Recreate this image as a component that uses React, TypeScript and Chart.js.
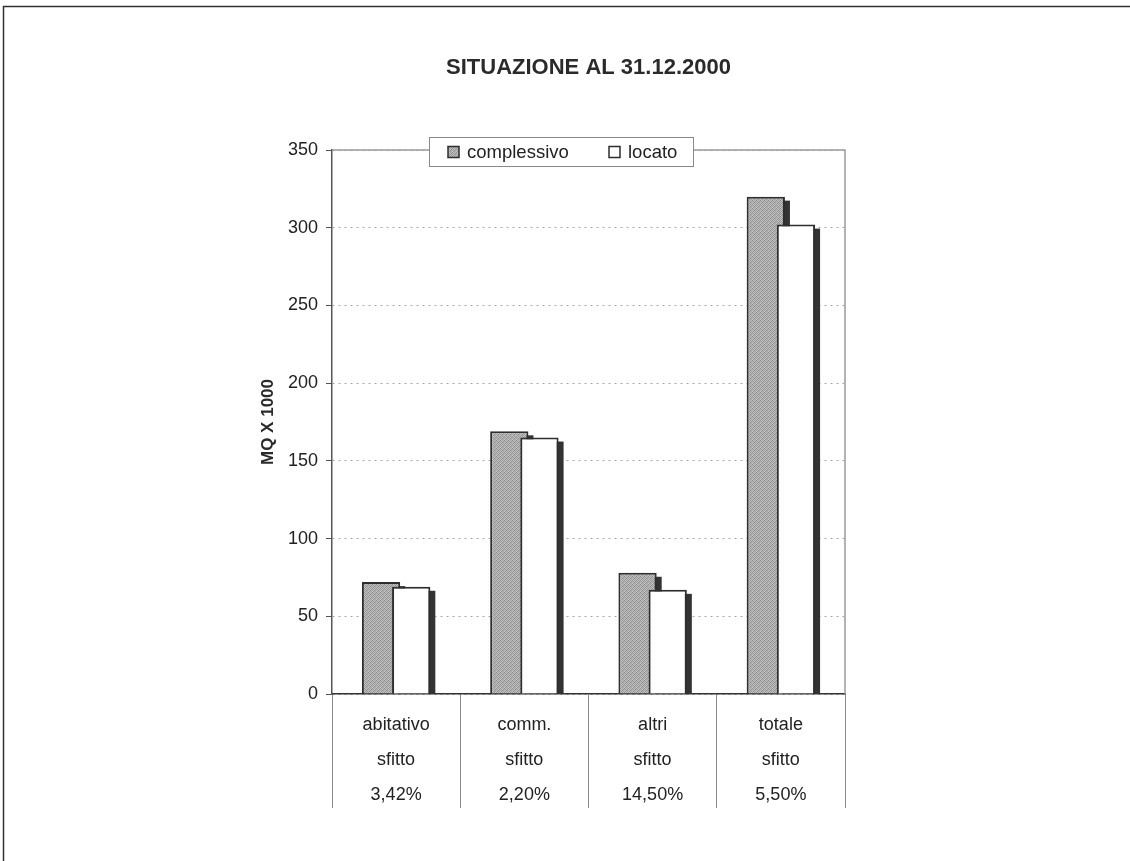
import { useEffect, useRef } from "react";
import { Chart, registerables } from "chart.js";

Chart.register(...registerables);

const TITLE = "SITUAZIONE AL 31.12.2000";
const Y_TITLE = "MQ X 1000";
const CATEGORIES = ["abitativo", "comm.", "altri", "totale"];
const SUB_LABEL = "sfitto";
const VACANCY = ["3,42%", "2,20%", "14,50%", "5,50%"];
const SERIES_NAMES = ["complessivo", "locato"];
const COMPLESSIVO = [72, 169, 78, 320];
const LOCATO = [69, 165, 67, 302];
const Y_MIN = 0;
const Y_MAX = 350;
const Y_STEP = 50;

const FONT = 'Arial, "Liberation Sans", sans-serif';

function makeStipple(): CanvasPattern | string {
  const c = document.createElement("canvas");
  c.width = 4;
  c.height = 4;
  const g = c.getContext("2d");
  if (!g) return "#a6a6a6";
  const shades = [
    ["#8e8e8e", "#c4c4c4", "#a0a0a0", "#bcbcbc"],
    ["#b8b8b8", "#9a9a9a", "#c8c8c8", "#909090"],
    ["#a4a4a4", "#c0c0c0", "#8c8c8c", "#b4b4b4"],
    ["#c6c6c6", "#969696", "#b0b0b0", "#a8a8a8"],
  ];
  for (let yy = 0; yy < 4; yy++) {
    for (let xx = 0; xx < 4; xx++) {
      g.fillStyle = shades[yy][xx];
      g.fillRect(xx, yy, 1, 1);
    }
  }
  const p = g.createPattern(c, "repeat");
  return p || "#a6a6a6";
}

export default function App() {
  const ref = useRef<HTMLCanvasElement | null>(null);

  useEffect(() => {
    document.body.style.margin = "0";
    const canvas = ref.current;
    if (!canvas) return;
    const stipple = makeStipple();

    const labels = CATEGORIES.map((c, i) => [c, SUB_LABEL, VACANCY[i]]);

    const drawPlugin = {
      id: "excelStyle",
      beforeDatasetsDraw(chart: any) {
        const ctx = chart.ctx;
        const { left, top, right, bottom } = chart.chartArea;
        ctx.save();
        ctx.strokeStyle = "#9a9a9a";
        ctx.lineWidth = 1.5;
        ctx.beginPath();
        ctx.moveTo(left, top);
        ctx.lineTo(right, top);
        ctx.lineTo(right, bottom);
        ctx.stroke();
        ctx.restore();
        chart.data.datasets.forEach((_ds: any, i: number) => {
          const meta = chart.getDatasetMeta(i);
          ctx.save();
          ctx.fillStyle = "#333333";
          meta.data.forEach((el: any) => {
            const { x, y, base, width } = el.getProps(["x", "y", "base", "width"], true);
            ctx.fillRect(x - width / 2 + 5, y + 4, width, base - y - 4);
          });
          ctx.restore();
          meta.controller.draw();
        });
        return false;
      },
      afterDraw(chart: any) {
        const ctx = chart.ctx;
        const { left, top } = chart.chartArea;
        ctx.save();
        // outer frame (top and left)
        ctx.strokeStyle = "#333";
        ctx.lineWidth = 1.5;
        ctx.beginPath();
        ctx.moveTo(3.5, chart.height);
        ctx.lineTo(3.5, 6.5);
        ctx.lineTo(chart.width, 6.5);
        ctx.stroke();

        // legend box
        const bx = left + 97;
        const by = top - 13;
        const bw = 264;
        const bh = 29;
        ctx.fillStyle = "#ffffff";
        ctx.fillRect(bx, by, bw, bh);
        ctx.strokeStyle = "#8a8a8a";
        ctx.lineWidth = 1;
        ctx.strokeRect(bx + 0.5, by + 0.5, bw, bh);
        ctx.font = `18.5px ${FONT}`;
        ctx.textBaseline = "middle";
        ctx.fillStyle = "#222";
        const cy = by + bh / 2;
        const items = [
          { x: bx + 19, label: chart.data.datasets[0].label, fill: stipple },
          { x: bx + 180, label: chart.data.datasets[1].label, fill: "#ffffff" },
        ];
        items.forEach((it) => {
          ctx.fillStyle = it.fill;
          ctx.fillRect(it.x, cy - 5, 11, 11);
          ctx.strokeStyle = "#2e2e2e";
          ctx.lineWidth = 1.5;
          ctx.strokeRect(it.x, cy - 5, 11, 11);
          ctx.fillStyle = "#222";
          ctx.fillText(it.label, it.x + 19, cy + 1);
        });
        ctx.restore();
      },
    };

    const chart = new Chart(canvas, {
      type: "bar",
      data: {
        labels,
        datasets: [
          {
            label: SERIES_NAMES[0],
            data: COMPLESSIVO,
            backgroundColor: stipple as any,
            borderColor: "#2e2e2e",
            borderWidth: 2,
            categoryPercentage: 0.47,
            barPercentage: 1.27,
          },
          {
            label: SERIES_NAMES[1],
            data: LOCATO,
            backgroundColor: "#ffffff",
            borderColor: "#2e2e2e",
            borderWidth: 2,
            categoryPercentage: 0.47,
            barPercentage: 1.27,
          },
        ],
      },
      options: {
        responsive: false,
        animation: false,
        events: [],
        layout: { padding: { left: 250, right: 285, top: 55, bottom: 53 } },
        plugins: {
          legend: { display: false },
          tooltip: { enabled: false },
          title: {
            display: true,
            text: TITLE,
            fullSize: false,
            color: "#2a2a2a",
            font: { family: FONT, size: 22, weight: "bold" },
            padding: { top: 0, bottom: 68.6 },
          },
        },
        scales: {
          x: {
            offset: true,
            grid: {
              offset: true,
              drawOnChartArea: false,
              drawTicks: true,
              tickLength: 114,
              color: "#8a8a8a",
              lineWidth: 1,
            },
            border: { display: true, color: "#333", width: 1.5 },
            ticks: {
              autoSkip: false,
              maxRotation: 0,
              minRotation: 0,
              padding: -100,
              color: "#222",
              font: { family: FONT, size: 18, lineHeight: 1.944 },
            },
            afterFit(scale: any) {
              scale.height = 114;
            },
          },
          y: {
            min: Y_MIN,
            max: Y_MAX,
            ticks: {
              stepSize: Y_STEP,
              padding: 8,
              color: "#222",
              font: { family: FONT, size: 18 },
            },
            grid: {
              color: "#a8a8a8",
              lineWidth: 1,
              tickLength: 6,
              tickColor: "#555",
              tickBorderDash: [],
            },
            border: { display: true, color: "#555", width: 1.5, dash: [2, 4] },
            title: {
              display: true,
              text: Y_TITLE,
              color: "#2a2a2a",
              font: { family: FONT, size: 17, weight: "bold" },
              padding: { top: 8, bottom: 0 },
            },
            afterFit(scale: any) {
              scale.width = 82;
            },
          },
        },
      },
      plugins: [drawPlugin],
    });

    return () => chart.destroy();
  }, []);

  return (
    <div style={{ position: "absolute", left: 0, top: 0, width: 1130, height: 861, background: "#fff" }}>
      <canvas ref={ref} width={1130} height={861} style={{ display: "block" }} />
    </div>
  );
}
